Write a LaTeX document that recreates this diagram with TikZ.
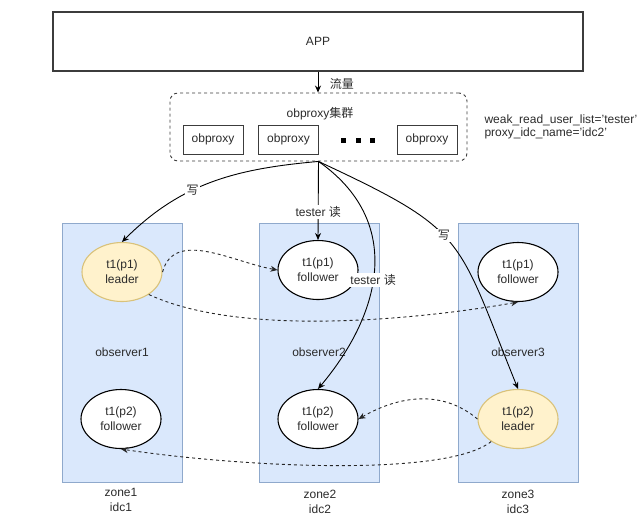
\documentclass[tikz,border=0pt]{standalone}
\usepackage{fontspec}
\setmainfont{Liberation Sans}
\newfontfamily\cjk{Noto Sans CJK SC}
\newcommand{\zh}[1]{{\cjk #1}}
\usetikzlibrary{shapes.geometric, arrows.meta, positioning}

\definecolor{zonefill}{HTML}{DAE8FC}
\definecolor{zoneline}{HTML}{8FA9CC}
\definecolor{leadfill}{HTML}{FFF2CC}
\definecolor{leadline}{HTML}{D9C27A}
\definecolor{boxline}{HTML}{3C3C3C}
\definecolor{txtgray}{HTML}{2B2B2B}

\begin{document}
\begin{tikzpicture}[
            x = 1pt, y = 1pt,
            > = {Stealth[length=7pt, width=6pt]},
            every node/.style = {font=\fontsize{12}{14}\selectfont, text=txtgray},
            appbox/.style = {draw=boxline, line width=1.1pt, minimum width=530pt, minimum height=59pt},
            proxybox/.style = {draw=boxline, line width=0.9pt, minimum width=60pt, minimum height=29pt, inner sep=0pt},
            clusterbox/.style = {draw=boxline, line width=0.9pt, dash pattern=on 3pt off 3pt, rounded corners=8pt,
                                 minimum width=297pt, minimum height=68pt},
            zonebox/.style = {draw=zoneline, fill=zonefill, line width=1pt, minimum width=120pt, minimum height=259pt, inner sep=0pt},
            replica/.style = {ellipse, draw=black, fill=white, line width=1.1pt, minimum width=80pt, minimum height=59pt,
                              inner sep=0pt, align=center, font=\fontsize{12}{15}\selectfont},
            leader/.style = {replica, draw=leadline, fill=leadfill},
            zonelabel/.style = {align=center, font=\fontsize{12}{15}\selectfont},
            tag/.style = {fill=white, inner sep=1.5pt},
            flow/.style = {->, draw=black, line width=0.9pt},
            sync/.style = {->, draw=black!85, line width=0.9pt, dash pattern=on 3pt off 3pt},
            dotbox/.style = {fill=black, inner sep=0pt, minimum size=5pt}
        ]
            \useasboundingbox (0,0) rectangle (640,-528);

            % Client and proxy cluster
            \node[appbox] (app) at (318,-41.5) {APP};
            \node[clusterbox] (cluster) at (318.5,-127) {};
            \node (clustertitle) at (320,-114) {obproxy\zh{集群}};
            \node[proxybox] (proxyA) at (213,-139.5) {obproxy};
            \node[proxybox] (proxyB) at (288.5,-139.5) {obproxy};
            \node[proxybox] (proxyC) at (427,-139.5) {obproxy};
            \foreach \x in {343,358,372}
                \node[dotbox] (dot\x) at (\x,-140) {};
            \node[anchor=west, align=left, font=\fontsize{12}{13}\selectfont] (config) at (481,-127)
                {weak\_read\_user\_list='tester'\\proxy\_idc\_name='idc2'};

            \draw[flow] (app.south) -- node[right=8pt, pos=0.6] {\zh{流量}} (app.south |- cluster.north);

            % Zones
            \node[zonebox] (zone1) at (122,-352.5) {observer1};
            \node[zonebox] (zone2) at (319,-352.5) {observer2};
            \node[zonebox] (zone3) at (518,-352.5) {observer3};
            \node[zonelabel] (idc1) at (121,-500) {zone1\\idc1};
            \node[zonelabel] (idc2) at (320,-502) {zone2\\idc2};
            \node[zonelabel] (idc3) at (518,-502) {zone3\\idc3};

            % Replicas
            \node[leader] (p1z1) at (122,-272) {t1(p1)\\leader};
            \node[replica] (p1z2) at (318,-270) {t1(p1)\\follower};
            \node[replica] (p1z3) at (518,-272) {t1(p1)\\follower};
            \node[replica] (p2z1) at (121,-419) {t1(p2)\\follower};
            \node[replica] (p2z2) at (318,-419) {t1(p2)\\follower};
            \node[leader] (p2z3) at (518,-419) {t1(p2)\\leader};

            % Requests from the proxies
            \path (cluster.south) edge[flow, out=185, in=45] node[tag, pos=0.6] {\zh{写}} (p1z1.north);
            \path (cluster.south) edge[flow] node[tag, pos=0.64] {tester \zh{读}} (p1z2.north);
            \path (cluster.south) edge[flow, out=-35, in=50, looseness=1.15] node[tag, pos=0.55] {tester \zh{读}} (p2z2.north);
            \path (cluster.south) edge[flow, out=-25, in=112, looseness=1.4] node[tag, pos=0.45] {\zh{写}} (p2z3.north);

            % Log sync from leaders
            \draw[sync] (p1z1.east) to[out=75, in=170] (p1z2.west);
            \draw[sync] (p1z1.-40) to[out=-25, in=-170, looseness=0.7] (p1z3.south);
            \draw[sync] (p2z3.west) to[out=140, in=30] (p2z2.east);
            \draw[sync] (p2z3.-140) .. controls +(-45,-36) and +(120,-18) .. (p2z1.south);

        \end{tikzpicture}
\end{document}
